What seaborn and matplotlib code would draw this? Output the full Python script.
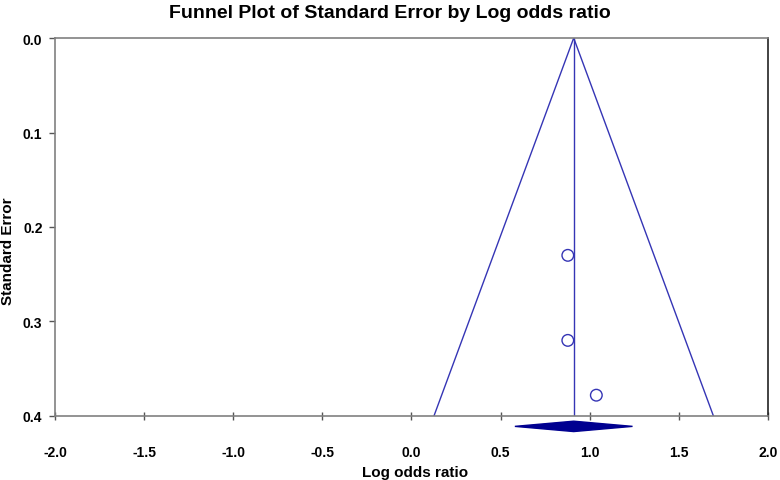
import numpy as np
import pandas as pd
import seaborn as sns
from matplotlib import pyplot as plt

# Dados dos estudos (log odds ratio e erro padrão)
log_odds = [0.877, 0.877, 1.037]
erro_padrao = [0.230, 0.320, 0.378]

# Estimativa combinada e intervalo de confiança
efeito_combinado = 0.91
ic_inferior = 0.58
ic_superior = 1.24
erro_max = 0.4

x_ticks = [-2.0, -1.5, -1.0, -0.5, 0.0, 0.5, 1.0, 1.5, 2.0]
y_ticks = [0.0, 0.1, 0.2, 0.3, 0.4]

azul = '#3535b5'
azul_escuro = '#000090'

sns.set_style('white')
plt.rcParams['font.family'] = ['Liberation Sans', 'DejaVu Sans']
plt.rcParams['text.color'] = 'black'
plt.rcParams['axes.labelcolor'] = 'black'
plt.rcParams['xtick.labelcolor'] = 'black'
plt.rcParams['ytick.labelcolor'] = 'black'

fig, ax = plt.subplots(figsize=(7.8, 4.81), dpi=100)
fig.subplots_adjust(left=0.0705, right=0.9846, bottom=0.1331, top=0.9189)

# Linhas do funil (limites de 95%)
funil = pd.DataFrame({
    'x': [efeito_combinado - 1.96 * erro_max, efeito_combinado, efeito_combinado + 1.96 * erro_max],
    'y': [erro_max, 0.0, erro_max],
})
ax.plot(funil['x'], funil['y'], color=azul, lw=1)
ax.plot([efeito_combinado, efeito_combinado], [0.0, erro_max], color=azul, lw=1)

# Estudos individuais
dados = pd.DataFrame({'log_odds': log_odds, 'erro': erro_padrao})
sns.scatterplot(data=dados, x='log_odds', y='erro', ax=ax, s=70,
                facecolor='none', edgecolor=azul, linewidth=1, zorder=3)

# Diamante da estimativa combinada
yd = 0.411
hd = 0.0055
ax.fill([ic_inferior, efeito_combinado, ic_superior, efeito_combinado],
        [yd, yd - hd, yd, yd + hd], color=azul_escuro, clip_on=False, zorder=4)

ax.set_xlim(-2.0, 2.0)
ax.set_ylim(0.4, 0.0)
ax.set_xticks(x_ticks)
ax.set_xticklabels([f'{v:.1f}' for v in x_ticks], fontweight='bold', fontsize=10)
ax.set_yticks(y_ticks)
ax.set_yticklabels([f'{v:.1f}' for v in y_ticks], fontweight='bold', fontsize=10)
ax.tick_params(axis='x', direction='inout', length=6, width=1, color='#555555', pad=18, bottom=True)
ax.tick_params(axis='y', direction='out', length=4, width=1, color='#555555', pad=5, left=True)

for lado in ['left', 'bottom', 'top']:
    ax.spines[lado].set_color('#808080')
    ax.spines[lado].set_linewidth(1.2)
ax.spines['right'].set_color('#222222')
ax.spines['right'].set_linewidth(1.2)

ax.set_xlabel('Log odds ratio', fontweight='bold', fontsize=11, va='center')
ax.xaxis.set_label_coords(0.505, -0.148)
ax.set_ylabel('Standard Error', fontweight='bold', fontsize=11, va='center')
ax.yaxis.set_label_coords(-0.066, 0.439)
fig.suptitle('Funnel Plot of Standard Error by Log odds ratio', fontweight='bold', fontsize=14,
             x=0.5, y=1 - 14 / 481, va='center')

plt.savefig('out.png', dpi=100)
plt.close()
